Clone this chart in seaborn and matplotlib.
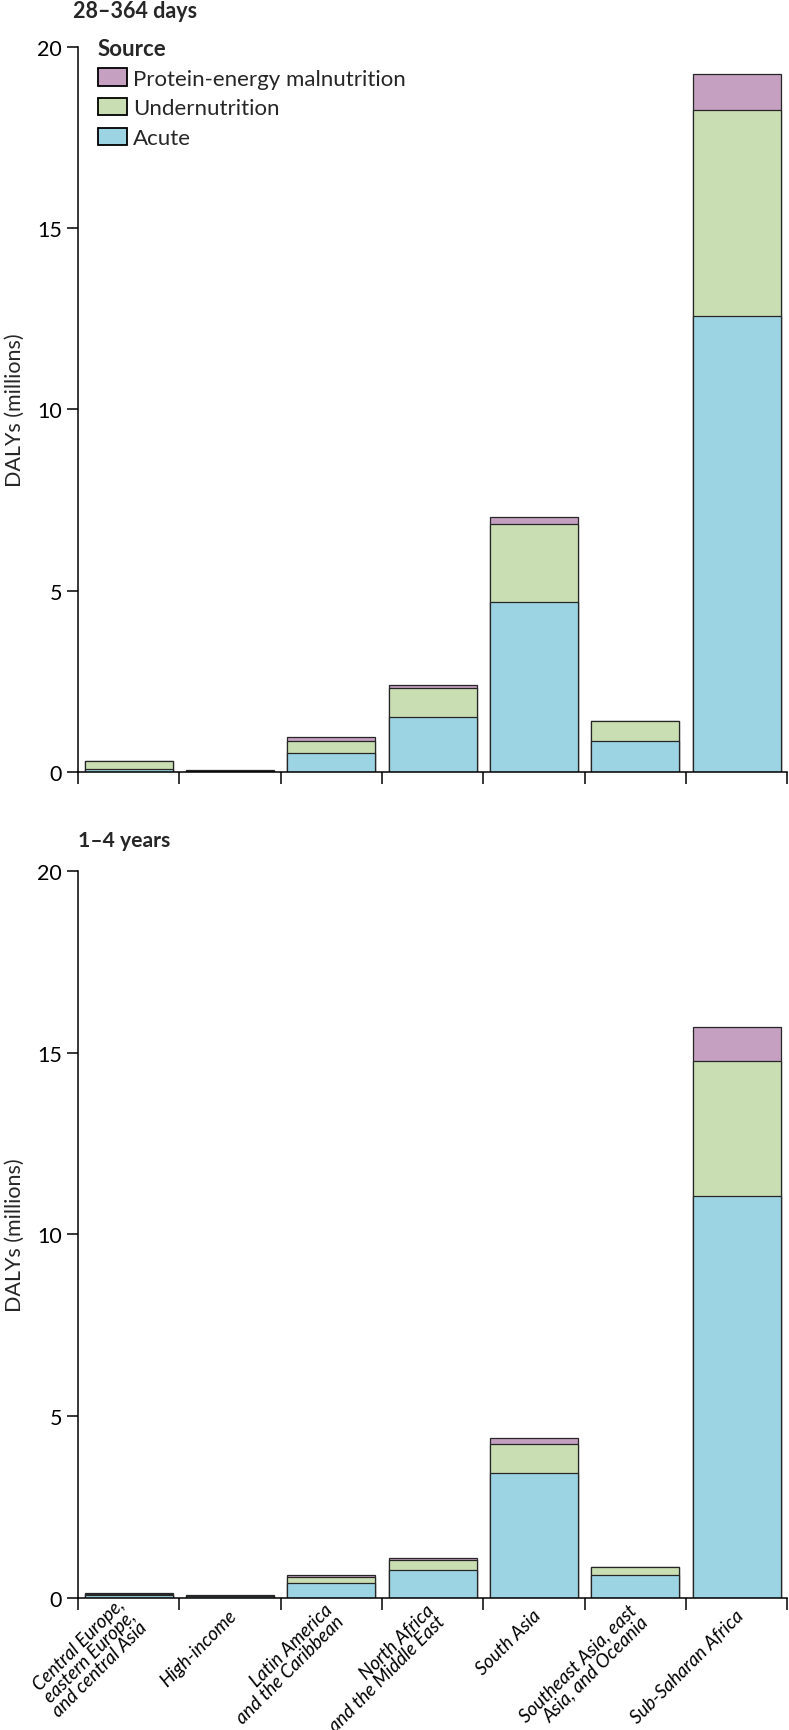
import numpy as np
import pandas as pd
import matplotlib
matplotlib.use("Agg")
import matplotlib.pyplot as plt
from matplotlib.patches import Patch
from matplotlib.ticker import FixedLocator, NullFormatter, FixedFormatter
import seaborn as sns

# ---------------- data ----------------
regions = ["CEEECA", "HI", "LAC", "NAME", "SA", "SEAO", "SSA"]
region_labels = [
    "Central Europe,\neastern Europe,\nand central Asia",
    "High-income",
    "Latin America\nand the Caribbean",
    "North Africa\nand the Middle East",
    "South Asia",
    "Southeast Asia, east\nAsia, and Oceania",
    "Sub-Saharan Africa",
]
source_names = ["Protein-energy malnutrition", "Undernutrition", "Acute"]

# 28-364 days (DALYs, millions)
infant_acute = [0.09, 0.03, 0.52, 1.51, 4.69, 0.85, 12.58]
infant_under = [0.21, 0.01, 0.35, 0.82, 2.14, 0.55, 5.67]
infant_pem = [0.01, 0.01, 0.09, 0.06, 0.20, 0.02, 0.99]

# 1-4 years (DALYs, millions)
child_acute = [0.09, 0.05, 0.41, 0.76, 3.43, 0.62, 11.06]
child_under = [0.03, 0.01, 0.17, 0.29, 0.82, 0.22, 3.70]
child_pem = [0.02, 0.01, 0.05, 0.04, 0.14, 0.02, 0.96]

panel_titles = ["28\u2013364 days", "1\u20134 years"]
y_ticks = [0, 5, 10, 15, 20]

colors = {
    "Protein-energy malnutrition": "#C5A0C1",
    "Undernutrition": "#C9DFB3",
    "Acute": "#9DD4E4",
}
edge = "#262626"

# ---------------- style ----------------
sns.set_theme(style="ticks")
plt.rcParams["font.family"] = ["Lato", "DejaVu Sans"]
plt.rcParams["axes.linewidth"] = 1.1
plt.rcParams["xtick.major.width"] = 1.1
plt.rcParams["ytick.major.width"] = 1.1
plt.rcParams["xtick.color"] = "black"
plt.rcParams["ytick.color"] = "black"
plt.rcParams["axes.edgecolor"] = "black"

fig = plt.figure(figsize=(7.89, 17.31), dpi=100)
ax1 = fig.add_axes([0.0989, 0.5534, 0.8991, 0.4190])
ax2 = fig.add_axes([0.0989, 0.07626, 0.8991, 0.4200])

LABEL_SHIFT = 0.04  # label anchor slightly right of the category centre


def draw(ax, acute, under, pem, show_labels):
    df = pd.DataFrame({"region": regions, "acute": acute, "under": under, "pem": pem})
    df["lvl2"] = df["acute"] + df["under"]
    df["lvl3"] = df["lvl2"] + df["pem"]
    for col, key in [("lvl3", "Protein-energy malnutrition"),
                     ("lvl2", "Undernutrition"),
                     ("acute", "Acute")]:
        sns.barplot(data=df, x="region", y=col, order=regions, color=colors[key],
                    saturation=1, width=0.87, edgecolor=edge, linewidth=0.9,
                    errorbar=None, ax=ax)
    ax.set_xlim(-0.5, 6.5)
    ax.set_ylim(0, 20)
    ax.set_yticks(y_ticks)
    ax.set_yticklabels([str(t) for t in y_ticks])
    ax.tick_params(axis="y", which="major", length=8, width=1.1, pad=3.5,
                   labelsize=15.5, direction="out")
    ax.xaxis.set_major_locator(FixedLocator(np.arange(-0.5, 7.0, 1.0)))
    ax.xaxis.set_major_formatter(NullFormatter())
    ax.xaxis.set_minor_locator(FixedLocator(np.arange(7) + LABEL_SHIFT))
    ax.tick_params(axis="x", which="major", length=8.6, width=1.1, direction="out")
    ax.tick_params(axis="x", which="minor", length=0, pad=10.5, labelsize=13.5)
    if show_labels:
        ax.xaxis.set_minor_formatter(FixedFormatter(region_labels))
        for lbl in ax.get_xticklabels(minor=True):
            lbl.set_rotation(45)
            lbl.set_ha("right")
            lbl.set_va("center")
            lbl.set_rotation_mode("anchor")
            lbl.set_multialignment("right")
            lbl.set_fontstyle("italic")
            lbl.set_linespacing(0.95)
    else:
        ax.xaxis.set_minor_formatter(NullFormatter())
    ax.set_xlabel("")
    ax.set_ylabel("DALYs (millions)", fontsize=15.5)
    ax.yaxis.set_label_coords(-0.075, 0.5)
    sns.despine(ax=ax)


draw(ax1, infant_acute, infant_under, infant_pem, False)
draw(ax2, child_acute, child_under, child_pem, True)

fig.text(73 / 789, 1 - 18 / 1731, panel_titles[0], fontsize=15.5, fontweight="bold",
         ha="left", va="baseline")
fig.text(78 / 789, 1 - 847 / 1731, panel_titles[1], fontsize=15.2, fontweight="bold",
         ha="left", va="baseline")

handles = [Patch(facecolor=colors[s], edgecolor="black", linewidth=1.3) for s in source_names]
leg = ax1.legend(handles, source_names, title="Source", loc="upper left",
                 bbox_to_anchor=(97.5 / 789, 1 - 39 / 1731), bbox_transform=fig.transFigure,
                 frameon=False, fontsize=16, title_fontproperties={"weight": "bold", "size": 16},
                 handlelength=1.32, handleheight=0.82, handletextpad=0.28,
                 labelspacing=0.42, borderpad=0, borderaxespad=0, alignment="left")

fig.savefig("out.png", dpi=100)
